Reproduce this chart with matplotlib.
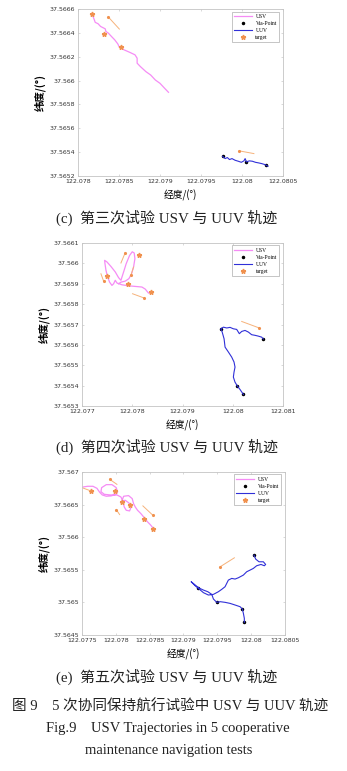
import matplotlib
matplotlib.use("Agg")
import matplotlib.pyplot as plt
import numpy as np

#------------------DATA (lon/lat in degrees)------------------#

# (c) third test
usv_c_lon = [122.078168, 122.078191, 122.078210, 122.078244, 122.078275, 122.078332, 122.078340, 122.078370,
             122.078408, 122.078447, 122.078485, 122.078504, 122.078561, 122.078637, 122.078695, 122.078721,
             122.078721, 122.078760, 122.078828, 122.078886, 122.078943, 122.079000, 122.079057, 122.079103]
usv_c_lat = [37.566561, 37.566524, 37.566488, 37.566477, 37.566454, 37.566434, 37.566412, 37.566398,
             37.566370, 37.566342, 37.566308, 37.566280, 37.566258, 37.566235, 37.566216, 37.566188,
             37.566146, 37.566118, 37.566075, 37.566047, 37.566005, 37.565977, 37.565935, 37.565902]
uuv_c_lon = [122.079763, 122.079794, 122.079821, 122.079847, 122.079878, 122.079916, 122.079954, 122.079992,
             122.080023, 122.080038, 122.080054, 122.080088, 122.080126, 122.080164, 122.080202, 122.080241,
             122.080279, 122.080317]
uuv_c_lat = [37.565366, 37.565346, 37.565355, 37.565338, 37.565346, 37.565332, 37.565324, 37.565315,
             37.565327, 37.565346, 37.565318, 37.565327, 37.565324, 37.565315, 37.565310, 37.565304,
             37.565296, 37.565282]
via_c_lon = [122.079763, 122.080054, 122.080290]
via_c_lat = [37.565366, 37.565318, 37.565293]
tgt_c_lon = [122.078168, 122.078321, 122.078523]
tgt_c_lat = [37.566561, 37.566387, 37.566280]
arr_c_lon0 = [122.078370, 122.079966]
arr_c_lat0 = [37.566533, 37.565411]
arr_c_lon1 = [122.078504, 122.080145]
arr_c_lat1 = [37.566432, 37.565388]

# (d) fourth test
usv_d_lon = [122.078390, 122.078324, 122.078258, 122.078192, 122.078059, 122.077927, 122.077794, 122.077695,
             122.077662, 122.077629, 122.077596, 122.077549, 122.077510, 122.077477, 122.077457, 122.077450,
             122.077497, 122.077576, 122.077662, 122.077728, 122.077775, 122.077828, 122.077880, 122.077947,
             122.078000, 122.078039, 122.078053, 122.078026, 122.077986, 122.077933, 122.077861, 122.077775,
             122.077728]
usv_d_lat = [37.565858, 37.565854, 37.565874, 37.565884, 37.565887, 37.565890, 37.565895, 37.565904,
             37.565917, 37.565900, 37.565892, 37.565908, 37.565933, 37.565966, 37.565999, 37.566015,
             37.566007, 37.565985, 37.565958, 37.565930, 37.565917, 37.565958, 37.565999, 37.566039,
             37.566057, 37.566051, 37.566023, 37.565982, 37.565949, 37.565925, 37.565913, 37.565908,
             37.565900]
uuv_d_lon = [122.080211, 122.080145, 122.080092, 122.080045, 122.080012, 122.080025, 122.080045, 122.080025,
             122.079979, 122.079913, 122.079847, 122.079827, 122.079780, 122.079761, 122.079814, 122.079880,
             122.079946, 122.080012, 122.080078, 122.080131, 122.080178, 122.080244, 122.080310, 122.080376,
             122.080442, 122.080509, 122.080575, 122.080608]
uuv_d_lat = [37.565357, 37.565381, 37.565398, 37.565417, 37.565442, 37.565466, 37.565491, 37.565516,
             37.565540, 37.565565, 37.565589, 37.565630, 37.565671, 37.565679, 37.565687, 37.565683,
             37.565686, 37.565679, 37.565676, 37.565655, 37.565666, 37.565671, 37.565663, 37.565650,
             37.565647, 37.565643, 37.565638, 37.565629]
via_d_lon = [122.079761, 122.080092, 122.080211, 122.080608]
via_d_lat = [37.565679, 37.565398, 37.565357, 37.565627]
tgt_d_lon = [122.077497, 122.077907, 122.078125, 122.078377]
tgt_d_lat = [37.565938, 37.565900, 37.566039, 37.565858]
arr_d_lon0 = [122.077430, 122.077861, 122.077973, 122.078238, 122.080528]
arr_d_lat0 = [37.565913, 37.566053, 37.565941, 37.565830, 37.565683]
arr_d_lon1 = [122.077377, 122.077775, 122.078026, 122.078006, 122.080178]
arr_d_lat1 = [37.565949, 37.566002, 37.565982, 37.565851, 37.565715]

# (e) fifth test
usv_e_lon = [122.077515, 122.077584, 122.077662, 122.077721, 122.077761, 122.077800, 122.077859, 122.077928,
             122.077992, 122.078026, 122.078006, 122.077943, 122.077859, 122.077790, 122.077780, 122.077829,
             122.077918, 122.078016, 122.078075, 122.078105, 122.078124, 122.078154, 122.078203, 122.078223,
             122.078193, 122.078139, 122.078090, 122.078115, 122.078188, 122.078242, 122.078262, 122.078287,
             122.078321, 122.078370, 122.078419, 122.078469, 122.078508, 122.078537, 122.078547]
usv_e_lat = [37.566770, 37.566781, 37.566781, 37.566750, 37.566689, 37.566648, 37.566628, 37.566633,
             37.566653, 37.566694, 37.566760, 37.566806, 37.566806, 37.566760, 37.566699, 37.566658,
             37.566648, 37.566648, 37.566617, 37.566556, 37.566464, 37.566413, 37.566403, 37.566454,
             37.566526, 37.566566, 37.566556, 37.566628, 37.566638, 37.566592, 37.566515, 37.566464,
             37.566413, 37.566362, 37.566301, 37.566235, 37.566194, 37.566158, 37.566118]
uuv_e_lon = [122.080042, 122.080067, 122.080116, 122.080180, 122.080214, 122.080195, 122.080145, 122.080081,
             122.080032, 122.079983, 122.079934, 122.079885, 122.079811, 122.079762, 122.079713, 122.079663,
             122.079614, 122.079565, 122.079516, 122.079442, 122.079368, 122.079295, 122.079231, 122.079172,
             122.079113, 122.079162, 122.079221, 122.079295, 122.079359, 122.079418, 122.079442, 122.079491,
             122.079541, 122.079614, 122.079688, 122.079762, 122.079836, 122.079870, 122.079885, 122.079899,
             122.079899]
uuv_e_lat = [37.565725, 37.565664, 37.565623, 37.565623, 37.565582, 37.565562, 37.565582, 37.565562,
             37.565521, 37.565495, 37.565470, 37.565419, 37.565378, 37.565358, 37.565368, 37.565342,
             37.565240, 37.565200, 37.565164, 37.565123, 37.565113, 37.565149, 37.565205, 37.565256,
             37.565317, 37.565276, 37.565225, 37.565189, 37.565164, 37.565123, 37.565052, 37.565001,
             37.565011, 37.565001, 37.564985, 37.564960, 37.564934, 37.564899, 37.564832, 37.564756,
             37.564695]
via_e_lon = [122.080042, 122.079221, 122.079491, 122.079870, 122.079899]
via_e_lat = [37.565725, 37.565225, 37.565001, 37.564899, 37.564695]
tgt_e_lon = [122.077633, 122.077992, 122.078095, 122.078213, 122.078419, 122.078542]
tgt_e_lat = [37.566709, 37.566704, 37.566541, 37.566500, 37.566286, 37.566133]
arr_e_lon0 = [122.077633, 122.077908, 122.078006, 122.078547, 122.079541]
arr_e_lat0 = [37.566709, 37.566888, 37.566424, 37.566337, 37.565546]
arr_e_lon1 = [122.077500, 122.078016, 122.078056, 122.078400, 122.079752]
arr_e_lat1 = [37.566760, 37.566811, 37.566347, 37.566480, 37.565684]

xt_c = ["122.078", "122.0785", "122.079", "122.0795", "122.08", "122.0805"]
yt_c = ["37.5652", "37.5654", "37.5656", "37.5658", "37.566", "37.5662", "37.5664", "37.5666"]
xt_d = ["122.077", "122.078", "122.079", "122.08", "122.081"]
yt_d = ["37.5653", "37.5654", "37.5655", "37.5656", "37.5657", "37.5658", "37.5659", "37.566", "37.5661"]
xt_e = ["122.0775", "122.078", "122.0785", "122.079", "122.0795", "122.08", "122.0805"]
yt_e = ["37.5645", "37.565", "37.5655", "37.566", "37.5665", "37.567"]

captions = ["(c)  第三次试验 USV 与 UUV 轨迹", "(d)  第四次试验 USV 与 UUV 轨迹", "(e)  第五次试验 USV 与 UUV 轨迹"]

#--------------------------------------------#

C_USV = "#f58cf5"
C_UUV = "#3030d8"
C_TGT = "#f0914e"
C_ARR = "#f6b27a"
CJK = ["Liberation Serif", "Noto Sans CJK SC"]

fig = plt.figure(figsize=(3.47, 7.71), dpi=100)


def panel(rect, ulon, ulat, vlon, vlat, plon, plat, tlon, tlat, a0x, a0y, a1x, a1y, xt, yt):
    ax = fig.add_axes(rect)
    ax.plot(ulon, ulat, color=C_USV, lw=0.9, label="USV")
    ax.plot(plon, plat, "k.", ms=3, label="Via-Point")
    ax.plot(vlon, vlat, color=C_UUV, lw=0.8, label="UUV")
    ax.plot(tlon, tlat, "*", color=C_TGT, ms=3.5, label="target")
    for i in range(len(a0x)):
        ax.plot([a0x[i], a1x[i]], [a0y[i], a1y[i]], color=C_ARR, lw=0.7)
        ax.plot(a0x[i], a0y[i], ".", color=C_TGT, ms=2.5)
    xv = [float(s) for s in xt]
    yv = [float(s) for s in yt]
    ax.set_xlim(xv[0], xv[-1])
    ax.set_ylim(yv[0], yv[-1])
    ax.set_xticks(xv)
    ax.set_xticklabels(xt)
    ax.set_yticks(yv)
    ax.set_yticklabels(yt)
    ax.tick_params(direction="in", length=1.5, width=0.4, labelsize=4.5, colors="#bbbbbb",
                   labelcolor="#333333", top=True, right=True, pad=2)
    for s in ax.spines.values():
        s.set_color("#c4c4c4")
        s.set_linewidth(0.6)
    ax.set_xlabel("经度/(°)", fontsize=7, family="Noto Sans CJK SC", labelpad=4)
    ax.set_ylabel("纬度/(°)", fontsize=7.5, family="Noto Sans CJK SC", fontweight="bold", labelpad=3)
    leg = ax.legend(loc="upper right", bbox_to_anchor=(0.98, 0.985), borderaxespad=0,
                    prop={"family": "Liberation Serif", "size": 4}, handlelength=3.2,
                    labelspacing=0.35, borderpad=0.4, handletextpad=0.6, fancybox=False)
    leg.get_frame().set_edgecolor("#9a9a9a")
    leg.get_frame().set_linewidth(0.5)
    return ax


panel([0.2248, 0.7717, 0.5908, 0.2166], usv_c_lon, usv_c_lat, uuv_c_lon, uuv_c_lat, via_c_lon, via_c_lat,
      tgt_c_lon, tgt_c_lat, arr_c_lon0, arr_c_lat0, arr_c_lon1, arr_c_lat1, xt_c, yt_c)
panel([0.2363, 0.4734, 0.5793, 0.2114], usv_d_lon, usv_d_lat, uuv_d_lon, uuv_d_lat, via_d_lon, via_d_lat,
      tgt_d_lon, tgt_d_lat, arr_d_lon0, arr_d_lat0, arr_d_lon1, arr_d_lat1, xt_d, yt_d)
panel([0.2363, 0.1764, 0.5850, 0.2114], usv_e_lon, usv_e_lat, uuv_e_lon, uuv_e_lat, via_e_lon, via_e_lat,
      tgt_e_lon, tgt_e_lat, arr_e_lon0, arr_e_lat0, arr_e_lon1, arr_e_lat1, xt_e, yt_e)

cap_y = [0.7173, 0.4202, 0.1219]
for cy, txt in zip(cap_y, captions):
    fig.text(0.48, cy, txt, ha="center", va="center", fontsize=10.8, family=CJK, color="#222222")

fig.text(0.49, 0.083, "图 9    5 次协同保持航行试验中 USV 与 UUV 轨迹", ha="center", va="center",
         fontsize=10.5, family=CJK, color="#222222")
fig.text(0.485, 0.0545, "Fig.9    USV Trajectories in 5 cooperative", ha="center", va="center",
         fontsize=10.5, family=CJK, color="#222222")
fig.text(0.485, 0.0272, "maintenance navigation tests", ha="center", va="center",
         fontsize=10.5, family=CJK, color="#222222")

fig.savefig("out.png", dpi=100)
